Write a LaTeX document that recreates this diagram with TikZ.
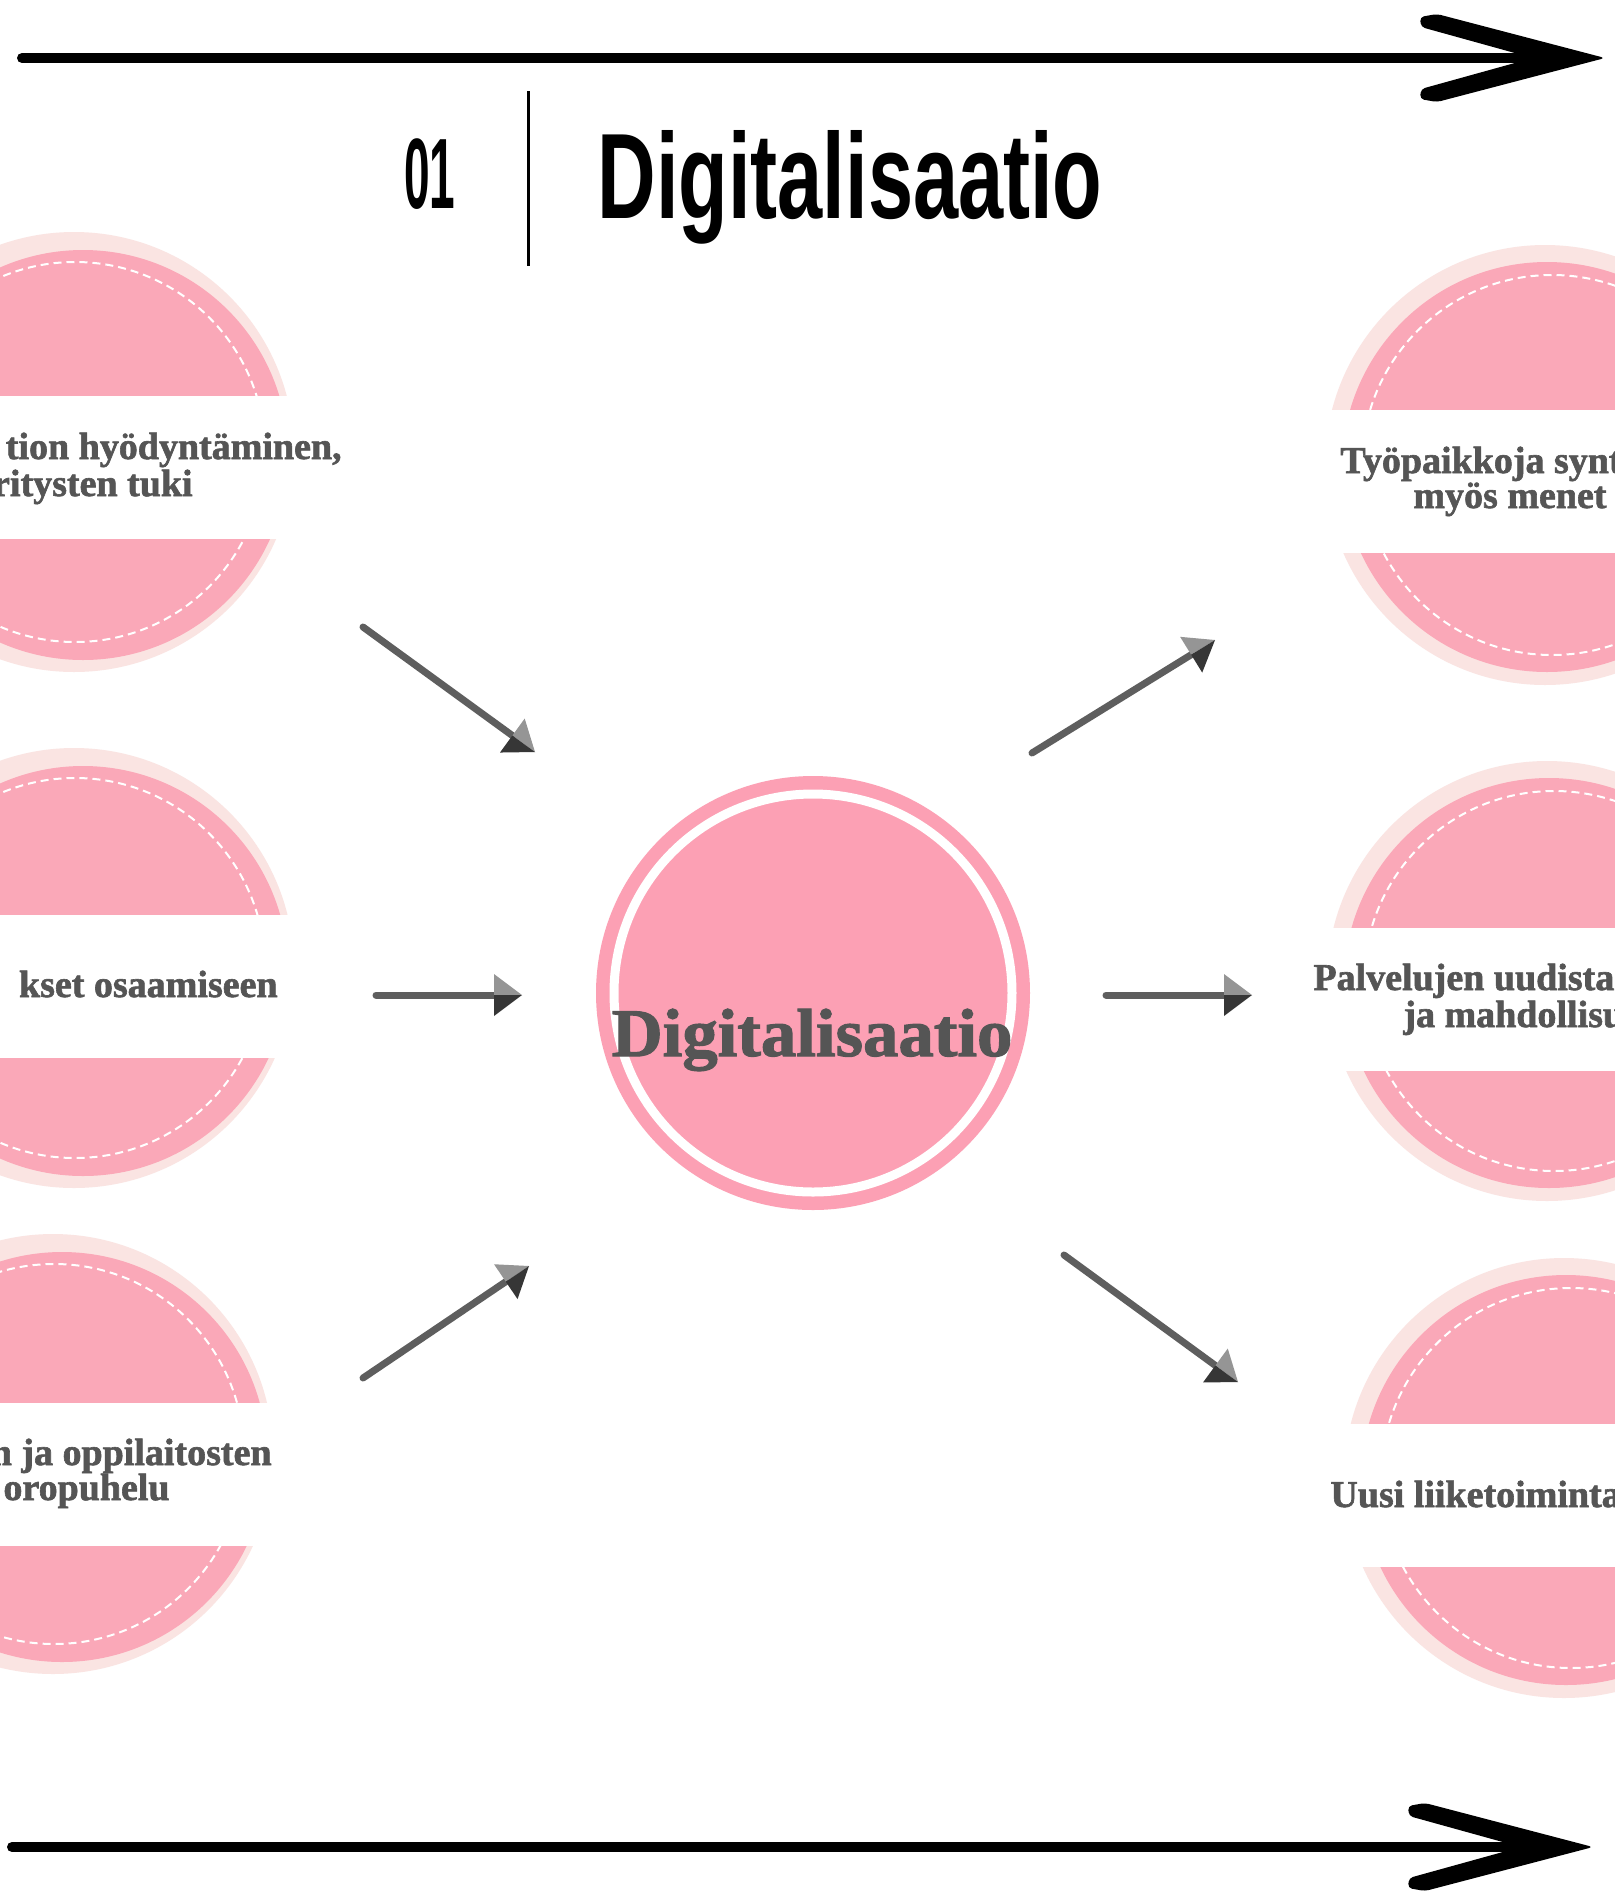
\documentclass[tikz,border=0pt]{standalone}
\usepackage{fontspec}
\setmainfont{Liberation Serif}
\newfontfamily\headfont{Liberation Sans}
\newfontfamily\sidefont[FakeBold=1.6]{Liberation Serif}
\usepackage{graphicx}
\usetikzlibrary{calc}
\definecolor{lightpk}{HTML}{FAE4E2}
\definecolor{sidepk}{HTML}{FAA8B8}
\definecolor{centerpk}{HTML}{FCA0B4}
\definecolor{txtgray}{HTML}{555555}
\definecolor{shaftgray}{HTML}{5E5E5E}
\definecolor{headlight}{HTML}{959595}
\definecolor{headdark}{HTML}{363636}
\tikzset{
  backdisc/.style={circle, fill=lightpk, inner sep=0pt, minimum size=220pt},
  frontdisc/.style={circle, fill=sidepk, inner sep=0pt, minimum size=205pt},
  dashring/.style={circle, draw=white, line width=1pt, dash pattern=on 4pt off 2.5pt, inner sep=0pt, minimum size=190pt},
  bandbox/.style={rectangle, fill=white, draw=none, inner sep=0pt, minimum width=170pt, minimum height=71.5pt},
  sidetext/.style={font=\sidefont\bfseries\fontsize{19pt}{22pt}\selectfont, text=txtgray, inner sep=0pt},
  bigline/.style={line width=5pt, black, line cap=round},
}
\newcommand\grayarrow[3]{%
  \coordinate (#3b) at ($(#2)!14pt!(#1)$);
  \coordinate (#3l) at ($(#3b)!10.5pt!90:(#2)$);
  \coordinate (#3r) at ($(#3b)!10.5pt!-90:(#2)$);
  \draw[line width=3.5pt, shaftgray, line cap=round] (#1) -- (#3b);
  \fill[headlight] (#2) -- (#3l) -- (#3b) -- cycle;
  \fill[headdark] (#2) -- (#3b) -- (#3r) -- cycle;
}
\newcommand\bigarrowhead{%
  \fill[black, rounded corners=2pt] (1605,58) -- (1437,14) -- (1420,17) -- (1421,27) -- (1522,55) -- (1522,61) -- (1421,89) -- (1420,99) -- (1437,102) -- cycle;
}
\begin{document}
\begin{tikzpicture}[x=0.5pt,y=-0.5pt]
\useasboundingbox (0,0) rectangle (1615,1896);
\fill[white] (0,0) rectangle (1615,1896);

% big black arrows
\coordinate (topS) at (22,58);
\coordinate (topE) at (1525,58);
\draw[bigline] (topS) -- (topE);
\bigarrowhead
\begin{scope}[shift={(-12,1789)}]
  \coordinate (botS) at (24,58);
  \coordinate (botE) at (1525,58);
  \draw[bigline] (botS) -- (botE);
  \bigarrowhead
\end{scope}

% title
\node[anchor=base west, inner sep=0pt, font=\headfont\bfseries\fontsize{50pt}{50pt}\selectfont] (num) at (404,208) {\scalebox{0.46}[1]{01}};
\coordinate (barTop) at (528,91);
\coordinate (barBot) at (528,266);
\draw[line width=1.5pt, black] (barTop) -- (barBot);
\node[anchor=base west, inner sep=0pt, font=\headfont\bfseries\fontsize{60.75pt}{61pt}\selectfont] (title) at (597,218) {\scalebox{0.668}[1]{Digitalisaatio}};

% left circles
\node[backdisc] (L1back) at (74,452) {};
\node[frontdisc] (L1disc) at (83,455) {};
\node[dashring] (L1ring) at (75,452) {};
\node[bandbox] (L1band) at (140,467.5) {};
\node[sidetext, anchor=base east] (L1ta) at (342,459) {tion hyödyntäminen,};
\node[sidetext, anchor=base east] (L1tb) at (193,496) {ritysten tuki};

\node[backdisc] (L2back) at (74,968) {};
\node[frontdisc] (L2disc) at (83,971) {};
\node[dashring] (L2ring) at (75,968) {};
\node[bandbox] (L2band) at (140,986.5) {};
\node[sidetext, anchor=base east] (L2ta) at (278,997) {kset osaamiseen};

\node[backdisc] (L3back) at (53,1454) {};
\node[frontdisc] (L3disc) at (62,1457) {};
\node[dashring] (L3ring) at (54,1454) {};
\node[bandbox] (L3band) at (140,1474) {};
\node[sidetext, anchor=base east] (L3ta) at (272,1465) {n ja oppilaitosten};
\node[sidetext, anchor=base east] (L3tb) at (170,1500) {oropuhelu};

% right circles
\node[backdisc] (R1back) at (1545,465) {};
\node[frontdisc] (R1disc) at (1547,467) {};
\node[dashring] (R1ring) at (1552,465) {};
\node[bandbox] (R1band) at (1480,481.5) {};
\node[sidetext, anchor=base west] (R1ta) at (1340,473) {Työpaikkoja synt};
\node[sidetext, anchor=base west] (R1tb) at (1413,508) {myös menet};

\node[backdisc] (R2back) at (1547,981) {};
\node[frontdisc] (R2disc) at (1549,983) {};
\node[dashring] (R2ring) at (1554,981) {};
\node[bandbox] (R2band) at (1480,999) {};
\node[sidetext, anchor=base west] (R2ta) at (1313,990) {Palvelujen uudista};
\node[sidetext, anchor=base west] (R2tb) at (1403,1027) {ja mahdollisu};

\node[backdisc] (R3back) at (1564,1478) {};
\node[frontdisc] (R3disc) at (1566,1480) {};
\node[dashring] (R3ring) at (1571,1478) {};
\node[bandbox] (R3band) at (1480,1495.5) {};
\node[sidetext, anchor=base west] (R3ta) at (1330,1507) {Uusi liiketoiminta};

% centre
\node[circle, fill=centerpk, inner sep=0pt, minimum size=217pt] (core) at (813,993) {};
\node[circle, draw=white, line width=4.5pt, inner sep=0pt, minimum size=199pt] (coreRing) at (813,993) {};
\node[anchor=base, inner sep=0pt, text=txtgray, font=\sidefont\bfseries\fontsize{34pt}{40pt}\selectfont] (coreText) at (812,1056) {\scalebox{1.04}[1]{Digitalisaatio}};

% gray arrows
\coordinate (a1s) at (363,627);  \coordinate (a1t) at (535,752);
\coordinate (a2s) at (376,995);  \coordinate (a2t) at (522,995);
\coordinate (a3s) at (363,1378); \coordinate (a3t) at (529,1266);
\coordinate (a4s) at (1032,753); \coordinate (a4t) at (1215,640);
\coordinate (a5s) at (1106,995); \coordinate (a5t) at (1252,995);
\coordinate (a6s) at (1064,1255); \coordinate (a6t) at (1238,1382);
\grayarrow{a1s}{a1t}{h1}
\grayarrow{a2s}{a2t}{h2}
\grayarrow{a3s}{a3t}{h3}
\grayarrow{a4s}{a4t}{h4}
\grayarrow{a5s}{a5t}{h5}
\grayarrow{a6s}{a6t}{h6}
\end{tikzpicture}
\end{document}
